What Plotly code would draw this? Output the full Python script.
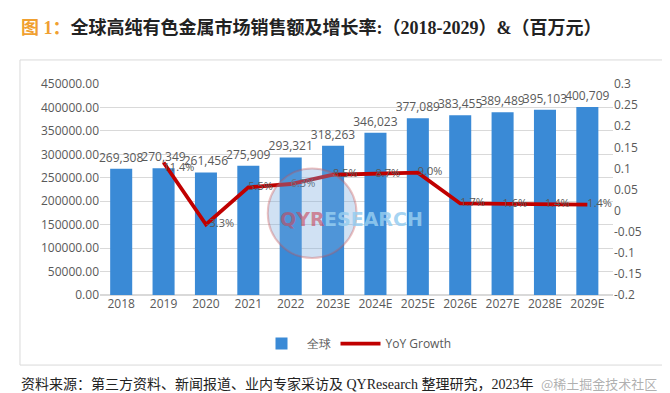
import plotly.graph_objects as go

years = ["2018", "2019", "2020", "2021", "2022", "2023E", "2024E", "2025E",
         "2026E", "2027E", "2028E", "2029E"]
sales = [269308, 270349, 261456, 275909, 293321, 318263, 346023, 377089,
         383455, 389489, 395103, 400709]
growth_years = years[1:]
growth = [0.114, -0.033, 0.055, 0.063, 0.085, 0.087, 0.090, 0.017, 0.016, 0.014, 0.014]
growth_labels = ["11.4%", "-3.3%", "5.5%", "6.3%", "8.5%", "8.7%", "9.0%",
                 "1.7%", "1.6%", "1.4%", "1.4%"]
left_ticks = [0, 50000, 100000, 150000, 200000, 250000, 300000, 350000, 400000, 450000]
right_ticks = [-0.2, -0.15, -0.1, -0.05, 0, 0.05, 0.1, 0.15, 0.2, 0.25, 0.3]
right_tick_text = ["-0.2", "-0.15", "-0.1", "-0.05", "0", "0.05", "0.1", "0.15", "0.2", "0.25", "0.3"]

gray = "#595959"
font_fam = "Open Sans, Liberation Sans, sans-serif"

fig = go.Figure()
fig.add_trace(go.Bar(
    x=years, y=sales, name="全球",
    marker=dict(color="#3a8ad6", line=dict(width=0)),
    width=0.52,
    text=[f"{v:,}" for v in sales], textposition="outside",
    constraintext="none",
    textfont=dict(color=gray, size=12, family=font_fam),
    cliponaxis=False,
))
fig.add_trace(go.Scatter(
    x=growth_years, y=growth, name="YoY Growth", yaxis="y2",
    mode="lines+text",
    line=dict(color="#c00000", width=3.8),
    text=growth_labels,
    textposition=["bottom right"] + ["middle right"] * 10,
    textfont=dict(color=gray, size=11, family=font_fam),
    cliponaxis=False,
))

# watermark
fig.add_shape(type="circle", xref="paper", yref="paper",
              x0=0.327, x1=0.50, y0=0.175, y1=0.60,
              fillcolor="rgba(120,170,220,0.35)", line=dict(color="rgba(200,80,80,0.35)", width=2),
              layer="above")
fig.add_annotation(xref="paper", yref="paper", x=0.347, y=0.36, xanchor="left",
                   text="<b>QYR</b>", showarrow=False,
                   font=dict(size=19, family="DejaVu Sans", color="rgba(200,70,90,0.6)"))
fig.add_annotation(xref="paper", yref="paper", x=0.432, y=0.36, xanchor="left",
                   text="<b>ESEARCH</b>", showarrow=False,
                   font=dict(size=19, family="DejaVu Sans", color="rgba(150,205,240,0.85)"))

# title
fig.add_annotation(xref="paper", yref="paper", x=-0.158, y=1.27, xanchor="left", yanchor="middle",
                   text="<b><span style='color:#f0a030'>图 1：</span>全球高纯有色金属市场销售额及增长率:（2018-2029）&（百万元）</b>",
                   showarrow=False, font=dict(size=18, color="#222222", family="Liberation Serif, Noto Sans CJK SC"))
# footer
fig.add_annotation(xref="paper", yref="paper", x=-0.158, y=-0.42, xanchor="left", yanchor="middle",
                   text="资料来源：第三方资料、新闻报道、业内专家采访及 QYResearch 整理研究，2023年",
                   showarrow=False, font=dict(size=14, color="#222222", family="Liberation Serif, Noto Sans CJK SC"))
fig.add_annotation(xref="paper", yref="paper", x=1.09, y=-0.42, xanchor="right", yanchor="middle",
                   text="@稀土掘金技术社区",
                   showarrow=False, font=dict(size=13, color="rgba(150,150,150,0.75)", family="Noto Sans CJK SC"))

# chart box
fig.add_shape(type="rect", xref="paper", yref="paper", x0=-0.156, x1=1.097, y0=-0.332, y1=1.114,
              line=dict(color="#d9d9d9", width=1), layer="below")

fig.update_layout(
    width=670, height=393,
    margin=dict(l=92, r=65, t=76, b=106),
    paper_bgcolor="white", plot_bgcolor="white",
    font=dict(family=font_fam, color=gray, size=12),
    bargap=0.48,
    showlegend=True,
    legend=dict(orientation="h", x=0.5, xanchor="center", y=-0.23, yanchor="middle",
                font=dict(size=12, color=gray), itemwidth=40),
    xaxis=dict(type="category", showline=False, ticks="", tickfont=dict(size=12, color=gray)),
    yaxis=dict(range=[0, 450000], tickvals=left_ticks, tickformat=".2f",
               showgrid=True, gridcolor="#d9d9d9", gridwidth=1, zeroline=True,
               zerolinecolor="#d9d9d9", tickfont=dict(size=12, color=gray)),
    yaxis2=dict(range=[-0.2, 0.3], tickvals=right_ticks, ticktext=right_tick_text,
                overlaying="y", side="right", showgrid=False, zeroline=False,
                tickfont=dict(size=12, color=gray)),
)

fig.write_html("out.html")
